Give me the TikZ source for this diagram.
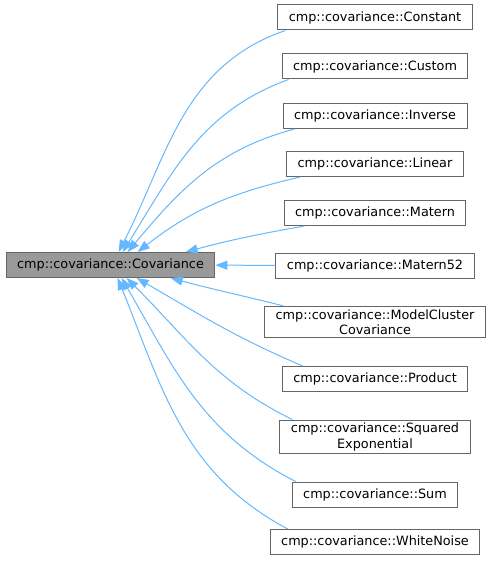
\documentclass[tikz,border=0pt]{standalone}
\usepackage{fontspec}
\setmainfont{DejaVu Sans}
\usetikzlibrary{arrows.meta, positioning}
\definecolor{edgeblue}{HTML}{63B8FF}
\definecolor{boxgray}{HTML}{666666}
\definecolor{basefill}{HTML}{999999}

\begin{document}
\begin{tikzpicture}[
    x=1pt, y=1pt,
    >={Triangle[length=12pt, width=9pt]},
    every node/.style={font=\fontsize{12.8}{15.5}\selectfont},
    cls/.style={rectangle, draw=boxgray, line width=1pt, fill=white,
        minimum height=25pt, inner xsep=11pt, inner ysep=3pt, align=center},
    base/.style={cls, fill=basefill},
    inh/.style={->, draw=edgeblue, line width=1pt},
]
    \useasboundingbox (0,0) rectangle (492,-561);

    \node[base] (covariance) at (110.5,-265) {cmp::covariance::Covariance};

    \node[cls] (constant)   at (375,-17.5)  {cmp::covariance::Constant};
    \node[cls] (custom)     at (375,-66.5)  {cmp::covariance::Custom};
    \node[cls] (inverse)    at (375,-116)   {cmp::covariance::Inverse};
    \node[cls] (linear)     at (375,-164)   {cmp::covariance::Linear};
    \node[cls] (matern)     at (375,-213)   {cmp::covariance::Matern};
    \node[cls] (matern52)   at (375,-265.5) {cmp::covariance::Matern52};
    \node[cls] (modelcl)    at (375,-322)   {cmp::covariance::ModelCluster\\Covariance};
    \node[cls] (product)    at (375,-379)   {cmp::covariance::Product};
    \node[cls] (sqexp)      at (375,-437)   {cmp::covariance::Squared\\Exponential};
    \node[cls] (sum)        at (375,-494.5) {cmp::covariance::Sum};
    \node[cls] (whitenoise) at (375,-542)   {cmp::covariance::WhiteNoise};

    % upper children
    \draw[inh] ([xshift=8pt]constant.south west) to[out=199, in=63] ([xshift=113pt]covariance.north west);
    \draw[inh] ([xshift=7pt]custom.south west) to[out=200, in=58] ([xshift=117pt]covariance.north west);
    \draw[inh] ([xshift=12pt]inverse.south west) to[out=195, in=50] ([xshift=122pt]covariance.north west);
    \draw[inh] ([xshift=14pt]linear.south west) to[out=193, in=38] ([xshift=132pt]covariance.north west);
    \draw[inh] ([xshift=21pt]matern.south west) to[out=190, in=15] ([xshift=180pt]covariance.north west);

    % Matern52
    \draw[inh] (matern52) -- (covariance);

    % lower children
    \draw[inh] ([xshift=19pt]modelcl.north west) to[out=166, in=-15] ([xshift=165pt]covariance.south west);
    \draw[inh] ([xshift=21pt]product.north west) to[out=157, in=-30] ([xshift=131pt]covariance.south west);
    \draw[inh] ([xshift=13pt]sqexp.north west) to[out=154, in=-45] ([xshift=121pt]covariance.south west);
    \draw[inh] ([xshift=4pt]sum.north west) to[out=153, in=-60] ([xshift=116pt]covariance.south west);
    \draw[inh] ([xshift=18pt]whitenoise.north west) to[out=152, in=-68] ([xshift=112pt]covariance.south west);

\end{tikzpicture}
\end{document}
